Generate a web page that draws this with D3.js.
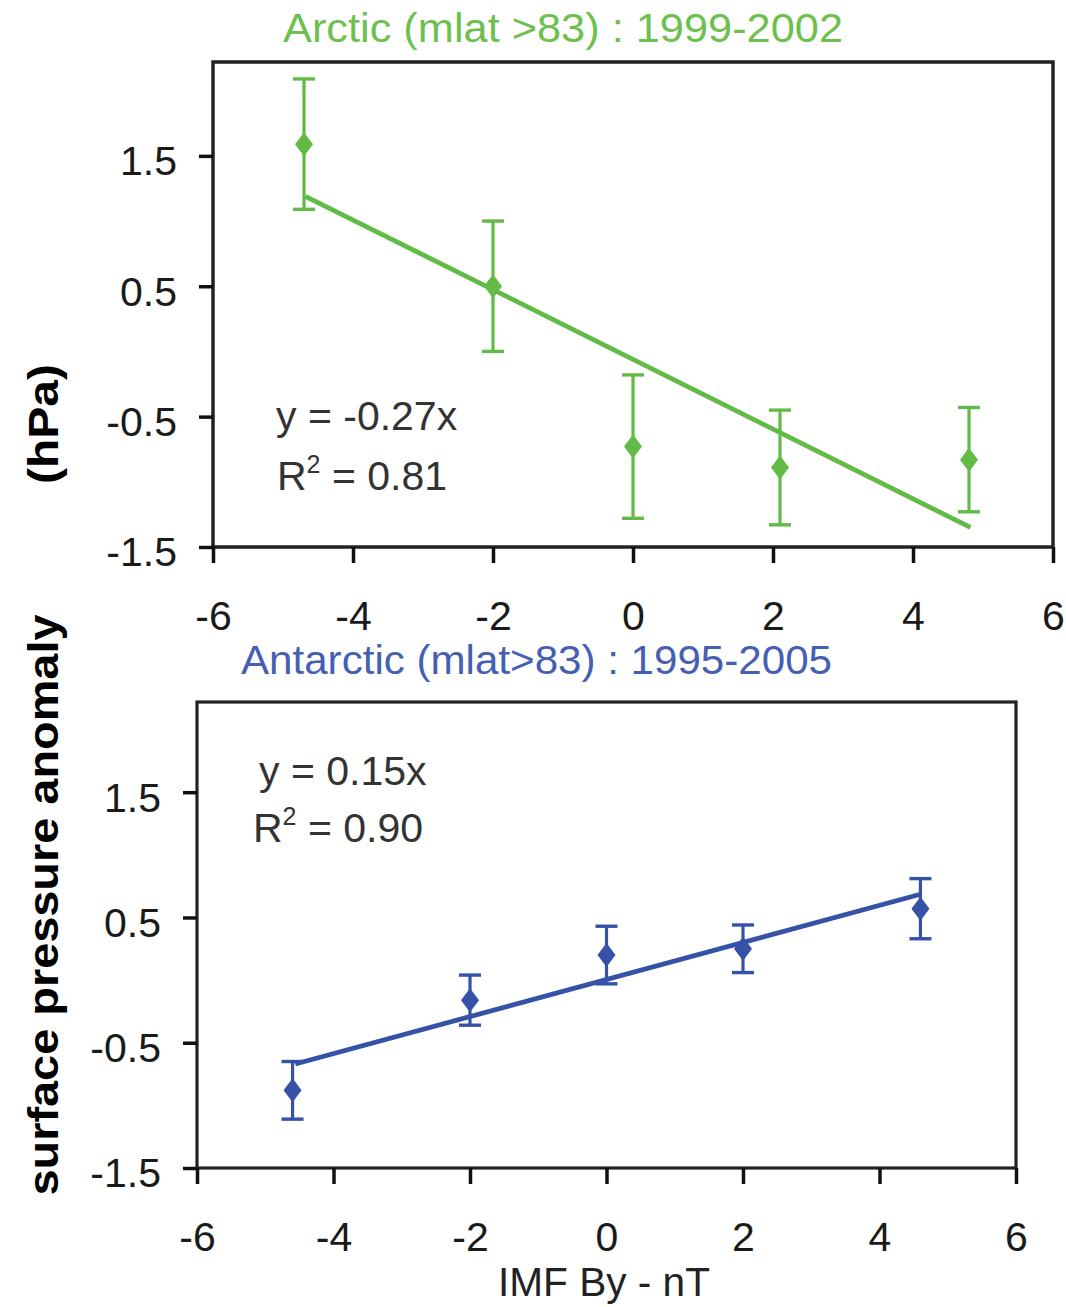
<!DOCTYPE html>
<html>
<head>
<meta charset="utf-8">
<script src="https://cdn.jsdelivr.net/npm/d3@7"></script>
<style>
  html, body { margin: 0; padding: 0; background: #fff; }
  svg { display: block; }
  text { font-family: "Liberation Sans", Arial, Helvetica, sans-serif; }
</style>
</head>
<body>
<svg id="chart" width="1066" height="1307"></svg>
<script>
// ---------- data ----------
const xTicks = [-6, -4, -2, 0, 2, 4, 6];
const yTicks = [-1.5, -0.5, 0.5, 1.5];
const yTickLabels = ["-1.5", "-0.5", "0.5", "1.5"];

const arcticX   = [-4.7, -2.0, 0.0, 2.1, 4.8];
const arcticY   = [1.59, 0.50, -0.73, -0.89, -0.83];
const arcticErr = [0.50, 0.50, 0.55, 0.44, 0.40];
const arcticFitX = [-4.68, 4.82];
const arcticFitY = [1.19, -1.35];

const antarcticX   = [-4.6, -2.0, 0.0, 2.0, 4.6];
const antarcticY   = [-0.88, -0.16, 0.20, 0.25, 0.57];
const antarcticErr = [0.23, 0.20, 0.23, 0.19, 0.24];
const antarcticFitX = [-4.56, 4.6];
const antarcticFitY = [-0.67, 0.685];

const titles = ["Arctic (mlat >83) : 1999-2002", "Antarctic (mlat>83) : 1995-2005"];
const equations = ["y = -0.27x", "y = 0.15x"];
const r2Values = ["0.81", "0.90"];

// ---------- layout ----------
const svg = d3.select("#chart");
const panels = [
  { x: arcticX, y: arcticY, err: arcticErr, fx: arcticFitX, fy: arcticFitY,
    title: titles[0], eq: equations[0], r2: r2Values[0],
    left: 213, right: 1053, top: 62, bottom: 547,
    color: "#62bb46", titleColor: "#6cc04d",
    titleX: 283, titleY: 42, titleLen: 560,
    eqX: 276, eqY: 430, r2X: 277, r2Y: 490, frame: 3.5 },
  { x: antarcticX, y: antarcticY, err: antarcticErr, fx: antarcticFitX, fy: antarcticFitY,
    title: titles[1], eq: equations[1], r2: r2Values[1],
    left: 197, right: 1016, top: 702, bottom: 1168,
    color: "#3552a8", titleColor: "#4560b3",
    titleX: 241, titleY: 674, titleLen: 591,
    eqX: 259, eqY: 785, r2X: 253, r2Y: 842, frame: 3.2 }
];

const yDomain = [-1.5, 2.22];

panels.forEach(p => {
  const xs = d3.scaleLinear().domain([-6, 6]).range([p.left, p.right]);
  const ys = d3.scaleLinear().domain(yDomain).range([p.bottom, p.top]);

  // title
  svg.append("text")
    .attr("x", p.titleX).attr("y", p.titleY)
    .attr("font-size", 41)
    .attr("fill", p.titleColor)
    .attr("textLength", p.titleLen)
    .attr("lengthAdjust", "spacingAndGlyphs")
    .text(p.title);

  // frame
  svg.append("rect")
    .attr("x", p.left).attr("y", p.top)
    .attr("width", p.right - p.left).attr("height", p.bottom - p.top)
    .attr("fill", "none").attr("stroke", "#222").attr("stroke-width", p.frame);

  // x axis
  const gx = svg.append("g")
    .attr("transform", `translate(0,${p.bottom})`)
    .call(d3.axisBottom(xs).tickValues(xTicks).tickFormat(d3.format("d"))
      .tickSize(16).tickPadding(38).tickSizeOuter(0));
  gx.select(".domain").remove();
  gx.selectAll(".tick line").attr("stroke", "#111").attr("stroke-width", 3.5);
  gx.selectAll(".tick text")
    .attr("font-size", 41).attr("fill", "#1a1a1a")
    .attr("font-family", "Liberation Sans, Arial, sans-serif")
    .text(d => d < 0 ? "-" + Math.abs(d) : String(d));

  // y axis
  const gy = svg.append("g")
    .attr("transform", `translate(${p.left},0)`)
    .call(d3.axisLeft(ys).tickValues(yTicks)
      .tickFormat((d, i) => yTickLabels[i])
      .tickSize(14).tickPadding(22).tickSizeOuter(0));
  gy.select(".domain").remove();
  gy.selectAll(".tick line").attr("stroke", "#111").attr("stroke-width", 3.5);
  gy.selectAll(".tick text")
    .attr("font-size", 41).attr("fill", "#1a1a1a")
    .attr("dy", "0.46em")
    .attr("font-family", "Liberation Sans, Arial, sans-serif");

  // fit line
  const fitData = p.fx.map((v, i) => [v, p.fy[i]]);
  svg.append("path")
    .datum(fitData)
    .attr("d", d3.line().x(d => xs(d[0])).y(d => ys(d[1])))
    .attr("fill", "none").attr("stroke", p.color).attr("stroke-width", 4.8);

  // error bars + diamonds
  const pts = p.x.map((v, i) => ({ x: v, y: p.y[i], e: p.err[i] }));
  const g = svg.append("g");
  const cap = 11;
  g.selectAll("line.err").data(pts).enter().append("line")
    .attr("x1", d => xs(d.x)).attr("x2", d => xs(d.x))
    .attr("y1", d => ys(d.y + d.e)).attr("y2", d => ys(d.y - d.e))
    .attr("stroke", p.color).attr("stroke-width", 3.2);
  ["top", "bot"].forEach(k => {
    g.selectAll("line.cap" + k).data(pts).enter().append("line")
      .attr("x1", d => xs(d.x) - cap).attr("x2", d => xs(d.x) + cap)
      .attr("y1", d => ys(k === "top" ? d.y + d.e : d.y - d.e))
      .attr("y2", d => ys(k === "top" ? d.y + d.e : d.y - d.e))
      .attr("stroke", p.color).attr("stroke-width", 3.4);
  });
  g.selectAll("path.dia").data(pts).enter().append("path")
    .attr("d", d => {
      const cx = xs(d.x), cy = ys(d.y), w = 9, h = 12;
      return `M${cx},${cy - h}L${cx + w},${cy}L${cx},${cy + h}L${cx - w},${cy}Z`;
    })
    .attr("fill", p.color);

  // equation text
  svg.append("text")
    .attr("x", p.eqX).attr("y", p.eqY)
    .attr("font-size", 41).attr("fill", "#333")
    .text(p.eq);
  const r2 = svg.append("text")
    .attr("x", p.r2X).attr("y", p.r2Y)
    .attr("font-size", 41).attr("fill", "#333");
  r2.append("tspan").text("R");
  r2.append("tspan").attr("font-size", 25).attr("dy", -17).text("2");
  r2.append("tspan").attr("dy", 17).text(" = " + p.r2);
});

// shared y label
svg.append("text")
  .attr("transform", "translate(58,905) rotate(-90)")
  .attr("text-anchor", "middle")
  .attr("font-size", 43).attr("font-weight", "bold").attr("fill", "#000")
  .attr("textLength", 581).attr("lengthAdjust", "spacingAndGlyphs")
  .text("surface pressure anomaly");
svg.append("text")
  .attr("transform", "translate(58,424) rotate(-90)")
  .attr("text-anchor", "middle")
  .attr("font-size", 43).attr("font-weight", "bold").attr("fill", "#000")
  .attr("textLength", 120).attr("lengthAdjust", "spacingAndGlyphs")
  .text("(hPa)");

// x label
svg.append("text")
  .attr("x", 604).attr("y", 1296)
  .attr("text-anchor", "middle")
  .attr("font-size", 40).attr("fill", "#222")
  .attr("textLength", 212).attr("lengthAdjust", "spacingAndGlyphs")
  .text("IMF By - nT");
</script>
</body>
</html>
